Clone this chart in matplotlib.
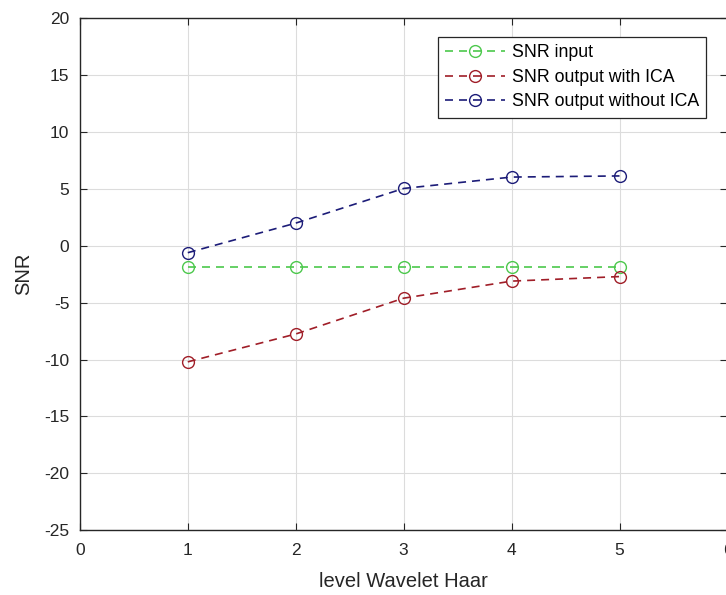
import matplotlib.pyplot as plt

plt.rcParams['font.family'] = ['Liberation Sans', 'DejaVu Sans']
plt.rcParams['axes.unicode_minus'] = False

levels = [1, 2, 3, 4, 5]
snr_input = [-1.85, -1.85, -1.85, -1.85, -1.85]
snr_with_ica = [-10.2, -7.75, -4.6, -3.1, -2.7]
snr_without_ica = [-0.6, 2.0, 5.05, 6.05, 6.15]

fig = plt.figure(figsize=(7.26, 5.95), dpi=100)
ax = fig.add_axes([0.110, 0.109, 0.892, 0.860])

dash = (4.8, 3.6)
ax.plot(levels, snr_input, '--o', color='#4cc84c', mfc='none', ms=8.5, lw=1.2, dashes=dash, label='SNR input')
ax.plot(levels, snr_with_ica, '--o', color='#a01e28', mfc='none', ms=8.5, lw=1.2, dashes=dash, label='SNR output with ICA')
ax.plot(levels, snr_without_ica, '--o', color='#1c1c78', mfc='none', ms=8.5, lw=1.2, dashes=dash, label='SNR output without ICA')

ax.set_xlim(0, 6)
ax.set_ylim(-25, 20)
ax.set_xticks(range(0, 7))
ax.set_yticks(range(-25, 21, 5))
ax.grid(True, color='#dcdcdc', lw=0.8)
ax.set_axisbelow(True)
ax.tick_params(direction='in', top=True, right=True, labelsize=12.5, colors='#262626', length=5)
ax.tick_params(axis='x', pad=9)
ax.tick_params(axis='y', pad=7.5)
for s in ax.spines.values():
    s.set_color('#262626')
    s.set_linewidth(1.0)

ax.set_xlabel('level Wavelet Haar', fontsize=14.5, color='#262626', labelpad=10)
ax.set_ylabel('SNR', fontsize=14.5, color='#262626', labelpad=8)

leg = ax.legend(loc='upper right', bbox_to_anchor=(0.967, 0.963), fontsize=12.8, fancybox=False,
                edgecolor='#262626', framealpha=1, handlelength=3.4, handletextpad=0.35,
                borderpad=0.4, labelspacing=0.42, borderaxespad=0)
leg.get_frame().set_linewidth(0.9)

fig.savefig('out.png', dpi=100)
